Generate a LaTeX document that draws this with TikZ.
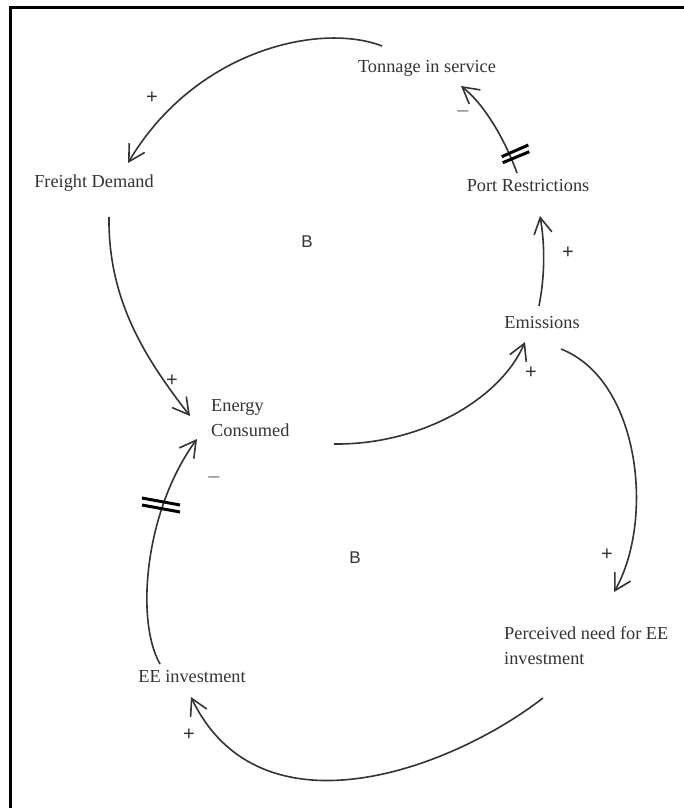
\documentclass[tikz,border=0pt]{standalone}
\usepackage{fontspec}
\setmainfont{Liberation Serif}
\newfontfamily\labelsans{Liberation Sans}
\usetikzlibrary{arrows.meta}
\definecolor{ink}{HTML}{333333}
\begin{document}
\begin{tikzpicture}[x=1pt,y=-1pt,
  var/.style={inner sep=0pt, text=ink, font=\fontsize{18.3}{25}\selectfont},
  link/.style={draw=ink, line width=1.6pt, -{Straight Barb[length=16pt,width=18pt]}},
  sign/.style={inner sep=0pt, text=ink, font=\labelsans\fontsize{20}{20}\selectfont},
  minus/.style={inner sep=0pt, text=gray, font=\labelsans\fontsize{20}{20}\selectfont},
  loopmark/.style={inner sep=0pt, text=ink, font=\labelsans\fontsize{17}{17}\selectfont},
  delay/.style={line width=3pt, black},
]
\useasboundingbox (0,0) rectangle (684,808);
% frame
\draw[line width=2.7pt] (10.3,808) -- (10.3,7.3) -- (684,7.3);

% variables
\node[var] (tns) at (427,68) {Tonnage in service};
\node[var] (fd) at (94,183) {Freight Demand};
\node[var] (pr) at (528,186) {Port Restrictions};
\node[var] (em) at (542,323) {Emissions};
\node[var, anchor=west, align=left] (ec) at (211,418.5) {Energy\\Consumed};
\node[var, anchor=west, align=left] (pn) at (504,645.5) {Perceived need for EE\\investment};
\node[var] (ee) at (192,677) {EE investment};

% loop markers
\node[loopmark] (b1) at (307,242) {B};
\node[loopmark] (b2) at (355,558) {B};

% connector end points
\coordinate (tns-out) at (382,46);
\coordinate (fd-in) at (128,163);
\coordinate (pr-out) at (517,173);
\coordinate (tns-in) at (461,86);
\coordinate (em-up) at (539,306);
\coordinate (pr-in) at (540,216);
\coordinate (fd-out) at (109,217);
\coordinate (ec-in1) at (190,416);
\coordinate (ec-out) at (334,444);
\coordinate (em-in) at (525,342);
\coordinate (em-out) at (561,349);
\coordinate (pn-in) at (614,592);
\coordinate (pn-out) at (543,698);
\coordinate (ee-in) at (191,697);
\coordinate (ee-out) at (160,664);
\coordinate (ec-in2) at (197,439);

% causal links
\draw[link] (tns-out) .. controls (320,22) and (195,50) .. (fd-in);
\draw[link] (pr-out) .. controls (505,140) and (485,105) .. (tns-in);
\draw[link] (em-up) .. controls (545,275) and (545,245) .. (pr-in);
\draw[link] (fd-out) .. controls (108,300) and (145,358) .. (ec-in1);
\draw[link] (ec-out) .. controls (420,445) and (500,400) .. (em-in);
\draw[link] (em-out) .. controls (640,380) and (655,520) .. (pn-in);
\draw[link] (pn-out) .. controls (450,770) and (260,840) .. (ee-in);
\draw[link] (ee-out) .. controls (135,620) and (145,510) .. (ec-in2);

% delay marks
\draw[delay] (501.7,156.7) -- (528.3,145);
\draw[delay] (502.7,162.7) -- (529.3,151.7);
\draw[delay] (142,498) -- (180,505);
\draw[delay] (142,505) -- (180,512);

% polarities
\node[sign] (s1) at (152,98) {+};
\node[minus] (s2) at (463,114) {–};
\node[sign] (s3) at (568,253) {+};
\node[sign] (s4) at (172,381) {+};
\node[sign] (s5) at (531,373) {+};
\node[sign] (s6) at (607,555) {+};
\node[sign] (s7) at (189,735) {+};
\node[minus] (s8) at (214,480) {–};
\end{tikzpicture}
\end{document}
